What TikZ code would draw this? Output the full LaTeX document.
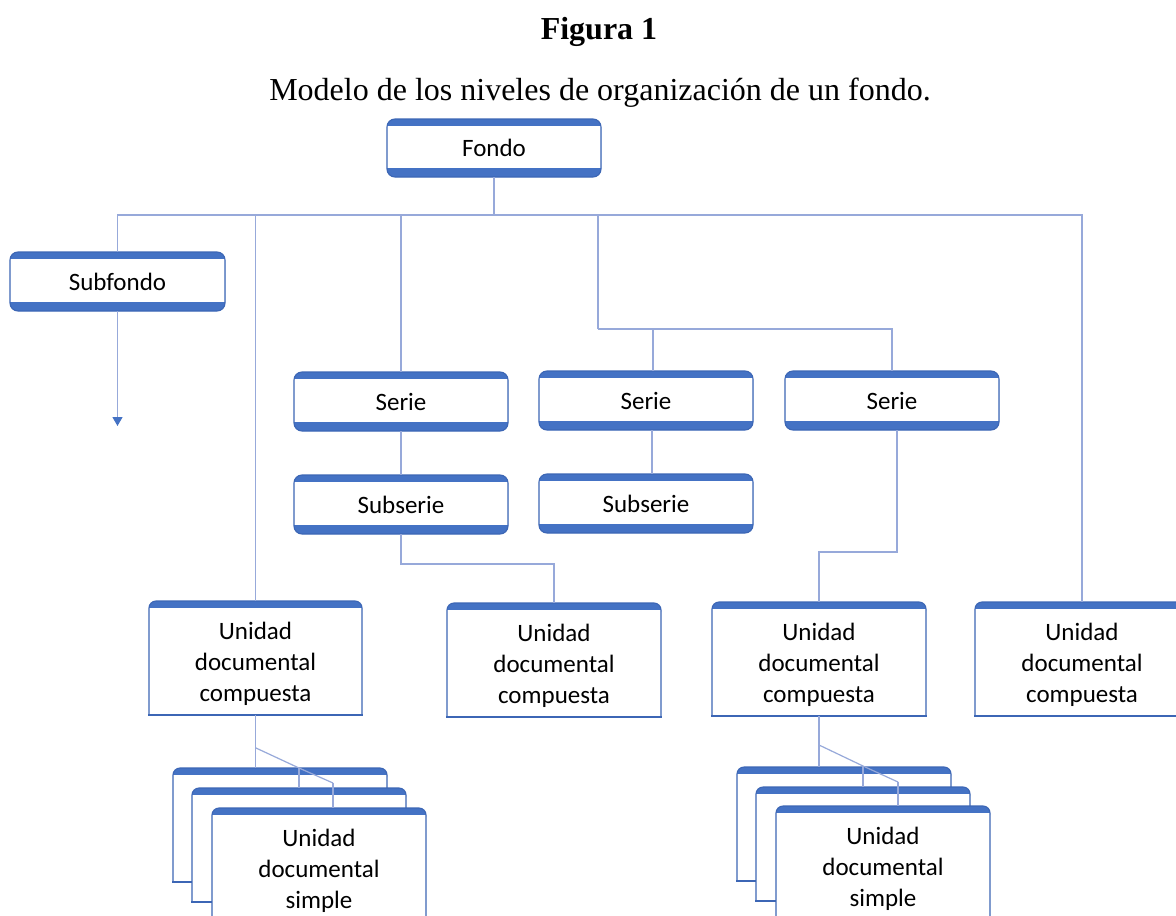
\documentclass[tikz,border=0pt]{standalone}
\usepackage{fontspec}
\setmainfont{Liberation Serif}
\newfontfamily\carlito{Carlito}
\usetikzlibrary{arrows.meta,calc}
\definecolor{bandblue}{HTML}{4472C4}
\definecolor{edgeblue}{HTML}{3C66B5}
\definecolor{linkblue}{HTML}{97A9DA}
\newcommand\udcedge[1]{%
  \draw[draw=edgeblue,line width=1.1pt,rounded corners=7pt] (#1.south east) -- (#1.north east) -- (#1.north west) -- (#1.south west);
  \draw[draw=edgeblue,line width=1.1pt,line cap=rect] (#1.south west) -- (#1.south east);}
\newcommand\firstline{\rule{0pt}{29pt}}
\begin{document}
\begin{tikzpicture}[x=1pt,y=-1pt,
  tbox/.style={rectangle, rounded corners=8pt, draw=edgeblue, line width=1.1pt, fill=bandblue,
    minimum width=214pt, minimum height=59pt, inner sep=0pt, outer sep=0pt, anchor=north west,
    font=\carlito\fontsize{25}{31}\selectfont,
    path picture={\fill[white,sharp corners] ([yshift=-7pt]path picture bounding box.north west) rectangle ([yshift=9pt]path picture bounding box.south east);}},
  ubox/.style={rectangle, fill=white, minimum width=214pt, minimum height=114pt, inner sep=0pt, outer sep=0pt,
    anchor=north west, align=center, font=\carlito\fontsize{25}{31}\selectfont,
    path picture={\fill[bandblue, rounded corners=7pt] (path picture bounding box.north west) rectangle ([yshift=-16pt]path picture bounding box.north east);
      \fill[white,sharp corners] ([yshift=-7pt]path picture bounding box.north west) rectangle (path picture bounding box.south east);}},
  link/.style={draw=linkblue, line width=1.2pt},
  ]
\useasboundingbox (0,0) rectangle (1176,916);
\clip (0,0) rectangle (1176,916);
\fill[white] (0,0) rectangle (1176,916);

% titles
\node[anchor=base, font=\bfseries\fontsize{32}{38}\selectfont] (title) at (599,39) {Figura 1};
\node[anchor=base, font=\fontsize{32}{38}\selectfont] (subtitle) at (600,100) {Modelo de los niveles de organización de un fondo.};

% two-band boxes
\node[tbox, minimum height=58pt] (fondo) at (387,119) {Fondo};
\node[tbox, minimum width=215pt] (subfondo) at (10,252) {Subfondo};
\node[tbox] (serie1) at (294,372) {Serie};
\node[tbox] (serie2) at (539,371) {Serie};
\node[tbox] (serie3) at (785,371) {Serie};
\node[tbox] (subserie1) at (294,475) {Subserie};
\node[tbox] (subserie2) at (539,474) {Subserie};

% composite units
\node[ubox, minimum width=213pt] (udc1) at (149,601) {\firstline Unidad\\documental\\compuesta}; \udcedge{udc1}
\node[ubox] (udc2) at (447,603) {\firstline Unidad\\documental\\compuesta}; \udcedge{udc2}
\node[ubox] (udc3) at (712,602) {\firstline Unidad\\documental\\compuesta}; \udcedge{udc3}
\node[ubox] (udc4) at (975,602) {\firstline Unidad\\documental\\compuesta}; \udcedge{udc4}

% simple units, left stack
\node[ubox] (sa1) at (173,768) {}; \udcedge{sa1}
\node[ubox] (sb1) at (192,788) {}; \udcedge{sb1}
\node[ubox] (sc1) at (212,808) {\firstline Unidad\\documental\\simple}; \udcedge{sc1}
% simple units, right stack
\node[ubox] (sa2) at (737,767) {}; \udcedge{sa2}
\node[ubox] (sb2) at (756,787) {}; \udcedge{sb2}
\node[ubox] (sc2) at (776,806) {\firstline Unidad\\documental\\simple}; \udcedge{sc2}

% connectors
\coordinate (bus) at (494,215);
\coordinate (j2) at (598,329);
\draw[link] (fondo.south) -- (bus);
\draw[link] (subfondo.north) |- (bus);
\draw[link] (udc1.north) |- (bus);
\draw[link] (serie1.north) |- (bus);
\draw[link] (j2) |- (bus);
\draw[link] (udc4.north) |- (bus);
\draw[link] ([xshift=7pt]serie2.north) |- (j2);
\draw[link] (serie3.north) |- (j2);
\draw[link] ([xshift=6pt]serie2.south) -- ([xshift=6pt]subserie2.north);
\draw[link] (serie1.south) -- (subserie1.north);
\draw[link] (subserie1.south) -- ++(0,30) -| (udc2.north);
\draw[link] ([xshift=5pt]serie3.south) -- ++(0,122) -| (udc3.north);

\coordinate (arrowend) at ($(subfondo.south)+(0,115)$);
\draw[link, -{Triangle[width=10pt,length=9pt,color=bandblue]}] (subfondo.south) -- (arrowend);

% left stack connectors
\coordinate (d1) at (256,748);
\coordinate (k1) at (299,768);
\coordinate (k2) at (333,783);
\draw[link] (udc1.south) -- (udc1.south |- sa1.north);
\draw[link] (d1) -- (k1) -- (k2);
\draw[link] (k1) -- (k1 |- sb1.north);
\draw[link] (k2) -- (k2 |- sc1.north);
% right stack connectors
\coordinate (d2) at (819,745);
\coordinate (k3) at (863,766);
\coordinate (k4) at (898,782);
\draw[link] (udc3.south) -- (udc3.south |- sa2.north);
\draw[link] (d2) -- (k3) -- (k4);
\draw[link] (k3) -- (k3 |- sb2.north);
\draw[link] (k4) -- (k4 |- sc2.north);
\end{tikzpicture}
\end{document}
